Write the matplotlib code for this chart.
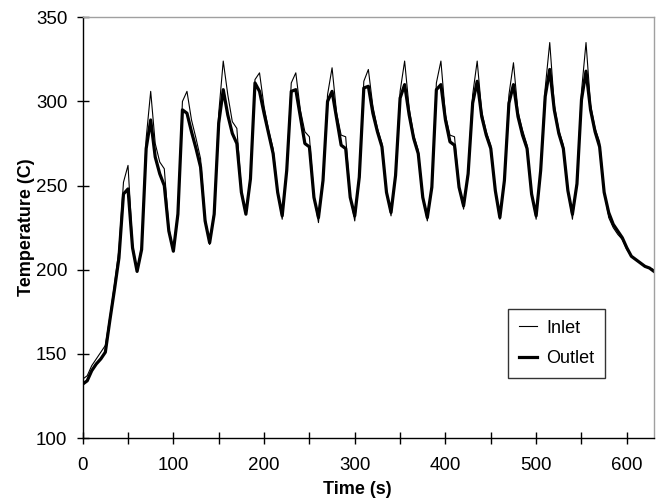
import numpy as np
import matplotlib
matplotlib.use("Agg")
import matplotlib.pyplot as plt
from matplotlib.ticker import MultipleLocator, FixedLocator

plt.rcParams['font.family'] = ['Liberation Sans', 'DejaVu Sans']

# time axis, one sample every 5 s
time_s = np.arange(0, 635, 5)

# temperatures (C), 8 samples per row = 40 s
inlet = [135, 137, 143, 147, 151, 155, 172, 191,
         212, 252, 262, 215, 199, 214, 278, 306,
         275, 264, 260, 225, 211, 235, 300, 306,
         289, 278, 266, 231, 215, 235, 293, 324,
         304, 288, 284, 248, 233, 256, 313, 317,
         297, 283, 272, 247, 230, 261, 311, 317,
         295, 282, 279, 244, 228, 255, 304, 320,
         293, 280, 279, 244, 229, 257, 312, 319,
         297, 284, 275, 247, 232, 258, 306, 324,
         296, 280, 271, 244, 229, 251, 311, 324,
         292, 280, 279, 250, 236, 259, 304, 324,
         294, 282, 274, 248, 230, 255, 304, 323,
         294, 283, 274, 246, 230, 261, 308, 335,
         298, 283, 274, 248, 230, 253, 306, 335,
         298, 284, 276, 247, 231, 225, 221, 218,
         212, 208, 206, 204, 202, 201, 200]

outlet = [132, 134, 140, 144, 147, 151, 170, 188,
          207, 245, 248, 213, 199, 212, 272, 289,
          267, 257, 250, 223, 211, 233, 295, 293,
          282, 272, 261, 229, 216, 233, 287, 307,
          292, 281, 275, 246, 233, 254, 311, 306,
          293, 281, 269, 246, 232, 259, 306, 307,
          291, 275, 273, 243, 231, 253, 300, 306,
          290, 274, 272, 243, 232, 255, 308, 309,
          293, 282, 273, 246, 234, 256, 302, 310,
          292, 278, 269, 243, 231, 249, 307, 310,
          289, 276, 274, 249, 238, 257, 299, 312,
          291, 280, 272, 247, 231, 253, 299, 310,
          291, 280, 272, 245, 232, 259, 303, 319,
          295, 281, 272, 247, 233, 251, 301, 318,
          295, 282, 273, 246, 234, 227, 223, 219,
          213, 208, 206, 204, 202, 201, 199]

fig = plt.figure(figsize=(6.64, 5.03), dpi=100)
ax = fig.add_axes([0.1245, 0.1292, 0.8605, 0.8364])

ax.plot(time_s, inlet, color='black', lw=0.8, label='Inlet')
ax.plot(time_s, outlet, color='black', lw=2.3, label='Outlet')

ax.set_xlim(0, 630)
ax.set_ylim(100, 350)
ax.xaxis.set_major_locator(FixedLocator(range(0, 650, 100)))
ax.xaxis.set_minor_locator(MultipleLocator(50))
ax.yaxis.set_major_locator(MultipleLocator(50))

ax.tick_params(axis='both', which='both', direction='inout', length=8,
               width=1, color='black', labelsize=13.5)
ax.tick_params(axis='x', pad=10)
ax.tick_params(axis='y', pad=7)

for side in ['left', 'bottom']:
    ax.spines[side].set_color('black')
    ax.spines[side].set_linewidth(1)
for side in ['top', 'right']:
    ax.spines[side].set_color('#a0a0a0')
    ax.spines[side].set_linewidth(1)

ax.set_xlabel('Time (s)', fontsize=13, fontweight='bold')
ax.set_ylabel('Temperature (C)', fontsize=13, fontweight='bold')
ax.xaxis.set_label_coords(0.48, -0.103)
ax.yaxis.set_label_coords(-0.083, 0.5)

leg = ax.legend(loc='lower left', bbox_to_anchor=(0.7445, 0.1426),
                borderaxespad=0, fontsize=13, frameon=True, fancybox=False,
                handlelength=1.0, handletextpad=0.5, labelspacing=0.75,
                borderpad=0.6)
leg.get_frame().set_edgecolor('black')
leg.get_frame().set_linewidth(1)

fig.savefig('out.png', dpi=100)
